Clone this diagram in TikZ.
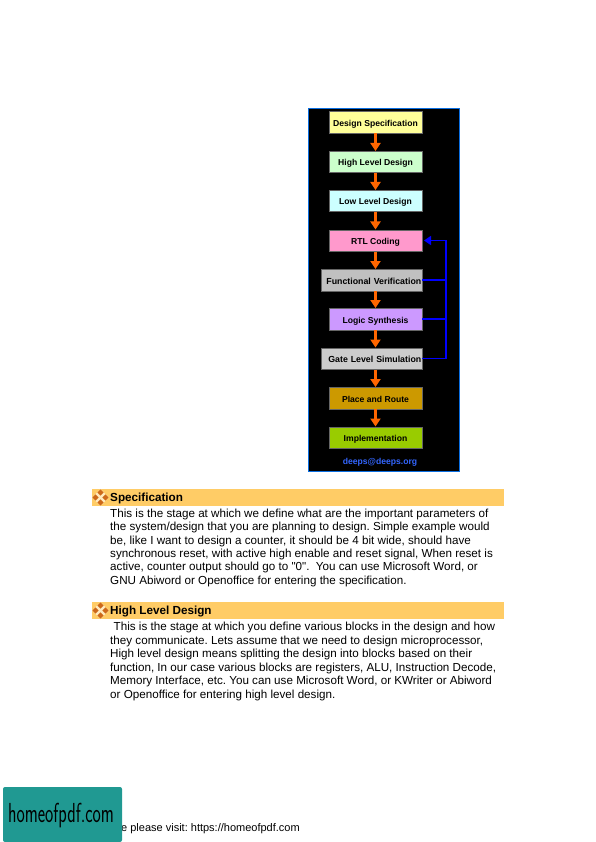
\documentclass[tikz,border=0pt]{standalone}
\usepackage{fontspec}
\setmainfont{Liberation Sans}[Ligatures=TeXOff]
\usetikzlibrary{arrows.meta,positioning,calc,shapes.geometric}
\definecolor{panelblue}{RGB}{10,110,225}
\definecolor{flowarrow}{RGB}{255,102,0}
\definecolor{mailblue}{RGB}{51,102,255}
\definecolor{barorange}{RGB}{255,204,102}
\definecolor{icondark}{RGB}{205,105,25}
\definecolor{iconlight}{RGB}{255,235,190}
\definecolor{logoteal}{RGB}{32,153,146}
\definecolor{specfill}{RGB}{255,255,153}
\definecolor{hldfill}{RGB}{204,255,204}
\definecolor{lldfill}{RGB}{204,255,255}
\definecolor{rtlfill}{RGB}{255,153,204}
\definecolor{fvfill}{RGB}{192,192,192}
\definecolor{synthfill}{RGB}{204,153,255}
\definecolor{glsfill}{RGB}{204,204,204}
\definecolor{pnrfill}{RGB}{204,153,0}
\definecolor{implfill}{RGB}{153,204,0}
\newcommand{\bodysize}{\fontsize{11.65}{13.5}\selectfont}
\frenchspacing

\begin{document}
\begin{tikzpicture}[x=1pt,y=-1pt,
      flow/.style={-{Triangle[length=8pt,width=10pt]}, line width=2.4pt, flowarrow},
      feedback/.style={line width=1.7pt, blue},
      stage/.style={draw=black!60, line width=0.5pt, inner sep=0pt, text=black,
                    font=\fontsize{8.6}{10}\selectfont\bfseries,
                    text height=8pt, text depth=0pt,
                    minimum width=92.5pt, minimum height=21.5pt},
      widestage/.style={stage, font=\fontsize{8.8}{10}\selectfont\bfseries,
                        text width=99.5pt, align=right, minimum width=100.5pt},
      bar/.style={fill=barorange, draw=none, minimum width=412pt, minimum height=17pt,
                  inner sep=0pt},
      head/.style={anchor=base west, inner sep=0pt, font=\fontsize{11.7}{14}\selectfont\bfseries},
      textline/.style={anchor=base west, inner sep=0pt, font=\bodysize},
      tile/.style={diamond, fill=#1, inner sep=0pt, minimum size=6.5pt}
    ]
    \useasboundingbox (0,0) rectangle (595,842);
    \fill[white] (0,0) rectangle (595,842);

    % flow panel
    \node[draw=panelblue, fill=black, line width=1.6pt, minimum width=151pt,
          minimum height=363pt, inner sep=0pt] (panel) at (384,290) {};
    \node[stage, fill=specfill] (dspec) at (375.5,122.5) {Design Specification};
    \node[stage, fill=hldfill] (hld) at (375.5,162) {High Level Design};
    \node[stage, fill=lldfill] (lld) at (375.5,201) {Low Level Design};
    \node[stage, fill=rtlfill] (rtl) at (375.5,240.5) {RTL Coding};
    \node[widestage, fill=fvfill] (fv) at (371.5,280) {Functional Verification};
    \node[stage, fill=synthfill] (synth) at (375.5,319) {Logic Synthesis};
    \node[widestage, fill=glsfill] (gls) at (371.5,358.5) {Gate Level Simulation};
    \node[stage, fill=pnrfill] (pnr) at (375.5,398) {Place and Route};
    \node[stage, fill=implfill] (impl) at (375.5,437.5) {Implementation};
    \node[text=mailblue, inner sep=0pt, font=\fontsize{8.6}{10}\selectfont\bfseries] (mail) at (380,462) {deeps@deeps.org};

    \draw[flow] (dspec)--(hld);
    \draw[flow] (hld)--(lld);
    \draw[flow] (lld)--(rtl);
    \draw[flow] (rtl.south)--(rtl.south |- fv.north);
    \draw[flow] (fv.south -| synth)--(synth.north);
    \draw[flow] (synth.south)--(synth.south |- gls.north);
    \draw[flow] (gls.south -| pnr)--(pnr.north);
    \draw[flow] (pnr)--(impl);

    \coordinate (railtop) at (446,240.5);
    \draw[feedback, -{Triangle[length=7pt,width=9pt]}, shorten >=2pt] (gls.east) -| (railtop) -- (rtl.east);
    \draw[feedback] (fv.east) -- (fv.east -| railtop);
    \draw[feedback] (synth.east) -- (synth.east -| railtop);

    % first section
    \node[bar, anchor=west] (spechead) at (92,497.5) {};
    \node[head] (spectitle) at (110,501.5) {Specification};
    \node[diamond, fill=iconlight, inner sep=0pt, minimum size=17pt] (specicon) at (100.5,497.5) {};
    \foreach \px/\py/\pc in {100.5/492.5/icondark,95.5/497.5/icondark,105.5/497.5/icondark,100.5/502.5/icondark}
      \node[tile=\pc] at (\px,\py) {};
    \foreach \py/\pt in {
      517/{This is the stage at which we define what are the important parameters of},
      530.5/{the system/design that you are planning to design. Simple example would},
      544/{be, like I want to design a counter, it should be 4 bit wide, should have},
      557/{synchronous reset, with active high enable and reset signal, When reset is},
      570.5/{active, counter output should go to "0".\ \ You can use Microsoft Word, or},
      584/{GNU Abiword or Openoffice for entering the specification.}}
      \node[textline] at (110,\py) {\pt};

    % second section
    \node[bar, anchor=west] (hldhead) at (92,610.5) {};
    \node[head] (hldtitle) at (110,614.5) {High Level Design};
    \node[diamond, fill=iconlight, inner sep=0pt, minimum size=17pt] (hldicon) at (100.5,610.5) {};
    \foreach \px/\py/\pc in {100.5/605.5/icondark,95.5/610.5/icondark,105.5/610.5/icondark,100.5/615.5/icondark}
      \node[tile=\pc] at (\px,\py) {};
    \node[textline] at (113.5,630.5) {This is the stage at which you define various blocks in the design and how};
    \foreach \py/\pt in {
      644/{they communicate. Lets assume that we need to design microprocessor,},
      657/{High level design means splitting the design into blocks based on their},
      671/{function, In our case various blocks are registers, ALU, Instruction Decode,},
      684/{Memory Interface, etc. You can use Microsoft Word, or KWriter or Abiword},
      698/{or Openoffice for entering high level design.}}
      \node[textline] at (110,\py) {\pt};

    % footer and logo
    \node[anchor=base west, inner sep=0pt, font=\fontsize{11}{13}\selectfont] (visit) at (121,831.5) {e please visit: https://homeofpdf.com};
    \node[fill=logoteal, rounded corners=2pt, minimum width=119pt, minimum height=55pt,
          inner sep=0pt] (logo) at (62.5,814.5) {};
    \node[xscale=0.7, yscale=1.1, inner sep=0pt, font=\fontsize{25}{28}\selectfont\sffamily] (logotext) at (61,816) {homeofpdf.com};
  \end{tikzpicture}
\end{document}
